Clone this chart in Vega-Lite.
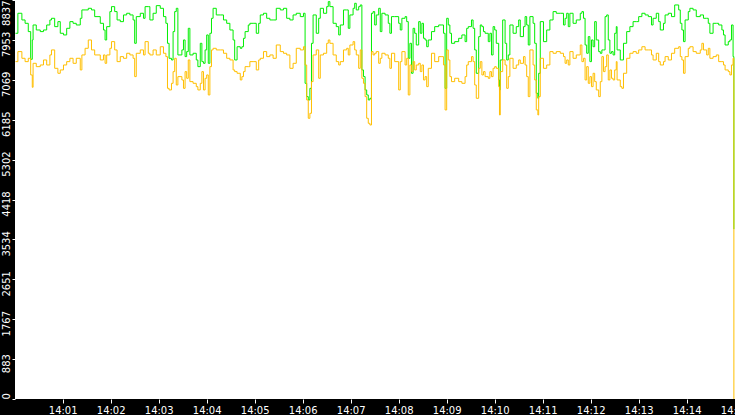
{
  "$schema": "https://vega.github.io/schema/vega-lite/v6.json",
  "width": 720,
  "height": 399,
  "autosize": {"type": "none"},
  "padding": {"left": 15, "top": 0, "right": 0, "bottom": 16},
  "background": "black",
  "data": {"values": [
    {"sec":1,"upper":8100,"lower":7472},{"sec":4,"upper":8543,"lower":7694},{"sec":9,"upper":8395,"lower":7546},{"sec":13,"upper":8321,"lower":7472},
    {"sec":17,"upper":8137,"lower":7546},{"sec":20,"upper":7524,"lower":7177},{"sec":22,"upper":7952,"lower":6904},{"sec":23,"upper":8284,"lower":7435},
    {"sec":27,"upper":8173,"lower":7361},{"sec":32,"upper":8137,"lower":7398},{"sec":36,"upper":8173,"lower":7509},{"sec":40,"upper":8284,"lower":7398},
    {"sec":44,"upper":8395,"lower":7620},{"sec":46,"upper":8432,"lower":7731},{"sec":50,"upper":8247,"lower":7324},{"sec":54,"upper":8358,"lower":7214},
    {"sec":57,"upper":8100,"lower":7288},{"sec":61,"upper":8063,"lower":7398},{"sec":65,"upper":8210,"lower":7472},{"sec":69,"upper":8358,"lower":7546},
    {"sec":73,"upper":8321,"lower":7435},{"sec":77,"upper":8284,"lower":7546},{"sec":82,"upper":8432,"lower":7288},{"sec":84,"upper":8617,"lower":7620},
    {"sec":88,"upper":8617,"lower":7767},{"sec":92,"upper":8653,"lower":7952},{"sec":96,"upper":8617,"lower":7731},{"sec":100,"upper":8469,"lower":7620},
    {"sec":107,"upper":8321,"lower":7509},{"sec":111,"upper":8173,"lower":7620},{"sec":113,"upper":7952,"lower":7435},{"sec":115,"upper":8247,"lower":7620},
    {"sec":119,"upper":8580,"lower":7767},{"sec":121,"upper":8690,"lower":7915},{"sec":125,"upper":8580,"lower":7731},{"sec":128,"upper":8395,"lower":7472},
    {"sec":132,"upper":8358,"lower":7583},{"sec":136,"upper":8506,"lower":7546},{"sec":140,"upper":8543,"lower":7657},{"sec":144,"upper":8506,"lower":7620},
    {"sec":148,"upper":8395,"lower":7546},{"sec":150,"upper":7878,"lower":7140},{"sec":152,"upper":8469,"lower":7657},{"sec":157,"upper":8543,"lower":7731},
    {"sec":161,"upper":8432,"lower":7620},{"sec":163,"upper":8690,"lower":7915},{"sec":167,"upper":8690,"lower":7657},{"sec":169,"upper":8395,"lower":7620},
    {"sec":173,"upper":8543,"lower":7731},{"sec":177,"upper":8712,"lower":7620},{"sec":182,"upper":8653,"lower":7802},{"sec":186,"upper":8469,"lower":7657},
    {"sec":189,"upper":8321,"lower":7583},{"sec":191,"upper":7878,"lower":6881},{"sec":193,"upper":7546,"lower":6845},{"sec":196,"upper":7509,"lower":6992},
    {"sec":198,"upper":8137,"lower":7251},{"sec":200,"upper":8580,"lower":7546},{"sec":202,"upper":8653,"lower":6955},{"sec":204,"upper":7620,"lower":7140},
    {"sec":209,"upper":7731,"lower":7066},{"sec":211,"upper":7952,"lower":6881},{"sec":213,"upper":7583,"lower":7251},{"sec":215,"upper":7694,"lower":7103},
    {"sec":217,"upper":8210,"lower":7509},{"sec":219,"upper":7620,"lower":7029},{"sec":223,"upper":7657,"lower":6992},{"sec":227,"upper":7509,"lower":6918},
    {"sec":229,"upper":7361,"lower":6845},{"sec":232,"upper":7878,"lower":6992},{"sec":234,"upper":7472,"lower":7251},{"sec":236,"upper":7435,"lower":6845},
    {"sec":238,"upper":7731,"lower":7103},{"sec":240,"upper":8063,"lower":7177},{"sec":242,"upper":7435,"lower":6734},{"sec":244,"upper":8100,"lower":7361},
    {"sec":246,"upper":8432,"lower":7731},{"sec":248,"upper":8653,"lower":7767},{"sec":252,"upper":8506,"lower":7731},{"sec":257,"upper":8506,"lower":7731},
    {"sec":261,"upper":8395,"lower":7657},{"sec":265,"upper":8321,"lower":7546},{"sec":269,"upper":8173,"lower":7509},{"sec":273,"upper":7952,"lower":7288},
    {"sec":275,"upper":7509,"lower":7251},{"sec":278,"upper":7802,"lower":7214},{"sec":282,"upper":7767,"lower":7066},{"sec":284,"upper":7802,"lower":7140},
    {"sec":286,"upper":7989,"lower":7251},{"sec":288,"upper":8137,"lower":7361},{"sec":292,"upper":8284,"lower":7361},
    {"sec":294,"upper":8321,"lower":7472},{"sec":298,"upper":8321,"lower":7472},{"sec":302,"upper":8100,"lower":7288},{"sec":305,"upper":8321,"lower":7509},
    {"sec":307,"upper":8506,"lower":7546},{"sec":311,"upper":8543,"lower":7694},{"sec":315,"upper":8432,"lower":7583},{"sec":319,"upper":8395,"lower":7620},
    {"sec":323,"upper":8395,"lower":7546},{"sec":327,"upper":8653,"lower":7841},{"sec":332,"upper":8617,"lower":7694},{"sec":336,"upper":8653,"lower":7657},
    {"sec":340,"upper":8432,"lower":7620},{"sec":344,"upper":8395,"lower":7324},{"sec":348,"upper":8506,"lower":7435},{"sec":352,"upper":8543,"lower":7767},
    {"sec":357,"upper":8469,"lower":7731},{"sec":361,"upper":8543,"lower":7802},{"sec":363,"upper":6992,"lower":7398},{"sec":365,"upper":6697,"lower":6623},
    {"sec":367,"upper":6623,"lower":6217},{"sec":369,"upper":6881,"lower":6328},{"sec":371,"upper":7878,"lower":7029},{"sec":373,"upper":8506,"lower":7620},
    {"sec":377,"upper":8100,"lower":7731},{"sec":380,"upper":8432,"lower":7103},{"sec":382,"upper":8653,"lower":7620},{"sec":386,"upper":8543,"lower":7657},
    {"sec":390,"upper":8690,"lower":7878},{"sec":392,"upper":8801,"lower":7952},{"sec":394,"upper":8690,"lower":7878},{"sec":398,"upper":8321,"lower":7620},
    {"sec":402,"upper":8247,"lower":7472},{"sec":405,"upper":8063,"lower":7398},{"sec":407,"upper":8284,"lower":7472},{"sec":411,"upper":8617,"lower":7731},
    {"sec":415,"upper":8617,"lower":7767},{"sec":417,"upper":8210,"lower":7620},{"sec":419,"upper":8506,"lower":7841},{"sec":423,"upper":8653,"lower":7915},
    {"sec":425,"upper":8764,"lower":7731},{"sec":427,"upper":8617,"lower":7620},{"sec":430,"upper":8690,"lower":7324},{"sec":432,"upper":8727,"lower":7731},
    {"sec":434,"upper":7288,"lower":7103},{"sec":436,"upper":7140,"lower":6992},{"sec":438,"upper":6845,"lower":6697},{"sec":440,"upper":6734,"lower":6217},
    {"sec":442,"upper":6623,"lower":6106},{"sec":444,"upper":6660,"lower":6069},
    {"sec":446,"upper":8543,"lower":7694},{"sec":448,"upper":8580,"lower":7620},{"sec":450,"upper":8284,"lower":7657},{"sec":452,"upper":8506,"lower":7694},
    {"sec":455,"upper":8653,"lower":7435},{"sec":457,"upper":8137,"lower":7546},{"sec":459,"upper":8543,"lower":7657},{"sec":463,"upper":8506,"lower":7620},
    {"sec":467,"upper":8321,"lower":7546},{"sec":469,"upper":8100,"lower":7324},{"sec":471,"upper":8469,"lower":7657},{"sec":475,"upper":8469,"lower":7472},
    {"sec":480,"upper":8321,"lower":6845},{"sec":482,"upper":8173,"lower":7472},{"sec":484,"upper":8432,"lower":7694},{"sec":488,"upper":8469,"lower":7398},
    {"sec":490,"upper":8358,"lower":7546},{"sec":492,"upper":7546,"lower":6734},{"sec":494,"upper":7878,"lower":7398},{"sec":496,"upper":7214,"lower":7251},
    {"sec":498,"upper":8210,"lower":7472},{"sec":500,"upper":8100,"lower":7288},{"sec":502,"upper":7841,"lower":7398},{"sec":505,"upper":8358,"lower":7435},
    {"sec":507,"upper":8100,"lower":7251},{"sec":509,"upper":8321,"lower":7398},{"sec":511,"upper":7989,"lower":7066},{"sec":513,"upper":7952,"lower":7140},
    {"sec":515,"upper":7802,"lower":6918},{"sec":517,"upper":7952,"lower":7324},{"sec":521,"upper":8137,"lower":7657},{"sec":525,"upper":8247,"lower":7472},
    {"sec":530,"upper":8284,"lower":7583},{"sec":534,"upper":8284,"lower":7583},{"sec":536,"upper":8100,"lower":7398},{"sec":538,"upper":6881,"lower":6402},
    {"sec":540,"upper":8432,"lower":7731},{"sec":542,"upper":8284,"lower":7509},{"sec":544,"upper":8100,"lower":7140},{"sec":546,"upper":7878,"lower":7029},
    {"sec":550,"upper":7915,"lower":7103},{"sec":555,"upper":7989,"lower":7029},{"sec":559,"upper":8063,"lower":6992},{"sec":563,"upper":7915,"lower":7140},
    {"sec":565,"upper":8210,"lower":7398},{"sec":567,"upper":8247,"lower":7472},{"sec":571,"upper":8395,"lower":7583},{"sec":573,"upper":8210,"lower":7472},
    {"sec":575,"upper":7731,"lower":6955},{"sec":577,"upper":7214,"lower":6660},{"sec":580,"upper":8026,"lower":7324},{"sec":582,"upper":8284,"lower":7472},
    {"sec":584,"upper":8247,"lower":7177},{"sec":586,"upper":8137,"lower":7251},{"sec":588,"upper":8100,"lower":7140},{"sec":592,"upper":7915,"lower":7103},
    {"sec":594,"upper":8100,"lower":7251},{"sec":596,"upper":7620,"lower":7140},{"sec":598,"upper":8247,"lower":7324},{"sec":600,"upper":8173,"lower":7361},
    {"sec":602,"upper":7878,"lower":7324},{"sec":605,"upper":7066,"lower":6918},{"sec":606,"upper":6845,"lower":6291},{"sec":607,"upper":7509,"lower":7251},
    {"sec":610,"upper":8395,"lower":7509},{"sec":613,"upper":7878,"lower":7398},{"sec":615,"upper":7509,"lower":6881},{"sec":617,"upper":7620,"lower":7140},
    {"sec":619,"upper":8284,"lower":7546},{"sec":623,"upper":8100,"lower":7324},{"sec":627,"upper":8247,"lower":7398},{"sec":630,"upper":8395,"lower":7509},
    {"sec":632,"upper":8026,"lower":7435},{"sec":636,"upper":8247,"lower":7583},{"sec":638,"upper":8469,"lower":7398},{"sec":640,"upper":8284,"lower":7140},
    {"sec":642,"upper":7841,"lower":6697},{"sec":644,"upper":8469,"lower":7731},{"sec":648,"upper":8321,"lower":7398},{"sec":650,"upper":7878,"lower":7066},
    {"sec":652,"upper":6771,"lower":6402},{"sec":654,"upper":6660,"lower":6291},{"sec":655,"upper":7214,"lower":6697},{"sec":657,"upper":8358,"lower":7546},
    {"sec":661,"upper":7915,"lower":7324},{"sec":665,"upper":8173,"lower":7398},{"sec":669,"upper":8395,"lower":7694},{"sec":673,"upper":8580,"lower":7657},
    {"sec":677,"upper":8543,"lower":7694},{"sec":682,"upper":8543,"lower":7657},{"sec":686,"upper":8284,"lower":7583},{"sec":688,"upper":8432,"lower":7435},
    {"sec":690,"upper":8543,"lower":7509},{"sec":692,"upper":8247,"lower":7398},{"sec":694,"upper":8543,"lower":7694},{"sec":698,"upper":8321,"lower":7546},
    {"sec":702,"upper":8395,"lower":7620},{"sec":707,"upper":8543,"lower":7841},{"sec":709,"upper":8580,"lower":7472},{"sec":711,"upper":8432,"lower":7546},
    {"sec":713,"upper":7841,"lower":7066},{"sec":715,"upper":7657,"lower":7361},{"sec":717,"upper":8026,"lower":6992},{"sec":719,"upper":7472,"lower":7140},
    {"sec":721,"upper":7952,"lower":6918},{"sec":723,"upper":7802,"lower":7214},{"sec":725,"upper":8358,"lower":7029},{"sec":727,"upper":7952,"lower":6845},
    {"sec":730,"upper":7694,"lower":6697},{"sec":732,"upper":7657,"lower":7029},{"sec":734,"upper":7731,"lower":7583},{"sec":736,"upper":7731,"lower":7251},
    {"sec":738,"upper":8469,"lower":7361},{"sec":740,"upper":8506,"lower":7620},{"sec":742,"upper":7952,"lower":7066},{"sec":744,"upper":7657,"lower":7288},
    {"sec":746,"upper":7694,"lower":7103},{"sec":748,"upper":7620,"lower":7066},{"sec":750,"upper":8100,"lower":7288},{"sec":752,"upper":8247,"lower":7472},
    {"sec":753,"upper":7731,"lower":7066},{"sec":757,"upper":7509,"lower":6918},{"sec":759,"upper":7509,"lower":6881},{"sec":761,"upper":7878,"lower":7214},
    {"sec":765,"upper":8137,"lower":7546},{"sec":769,"upper":8247,"lower":7657},{"sec":773,"upper":8358,"lower":7694},{"sec":777,"upper":8358,"lower":7657},
    {"sec":780,"upper":8469,"lower":7731},{"sec":784,"upper":8543,"lower":7802},{"sec":788,"upper":8506,"lower":7731},{"sec":792,"upper":8469,"lower":7731},
    {"sec":796,"upper":8284,"lower":7620},{"sec":798,"upper":8432,"lower":7509},{"sec":802,"upper":8543,"lower":7657},{"sec":805,"upper":8358,"lower":7472},
    {"sec":807,"upper":8173,"lower":7398},{"sec":811,"upper":8321,"lower":7472},{"sec":813,"upper":8506,"lower":7583},{"sec":817,"upper":8543,"lower":7509},
    {"sec":821,"upper":8469,"lower":7657},{"sec":825,"upper":8727,"lower":7767},{"sec":830,"upper":8617,"lower":7802},{"sec":832,"upper":8321,"lower":7583},
    {"sec":834,"upper":8173,"lower":7509},{"sec":836,"upper":7915,"lower":7214},{"sec":838,"upper":8395,"lower":7583},{"sec":842,"upper":8580,"lower":7767},
    {"sec":844,"upper":8653,"lower":7802},{"sec":848,"upper":8617,"lower":7694},{"sec":852,"upper":8469,"lower":7657},{"sec":857,"upper":8506,"lower":7731},
    {"sec":859,"upper":8506,"lower":7878},{"sec":861,"upper":8432,"lower":7731},{"sec":865,"upper":8432,"lower":7620},{"sec":867,"upper":8321,"lower":7767},
    {"sec":869,"upper":8100,"lower":7546},{"sec":873,"upper":8321,"lower":7583},{"sec":877,"upper":8321,"lower":7620},{"sec":880,"upper":8284,"lower":7472},
    {"sec":884,"upper":8173,"lower":7472},{"sec":886,"upper":8063,"lower":7398},{"sec":888,"upper":7841,"lower":7288},{"sec":892,"upper":7915,"lower":7251},
    {"sec":894,"upper":7952,"lower":7177},{"sec":896,"upper":8284,"lower":7398},{"sec":898,"upper":7583,"lower":7546},{"sec":899,"upper":3762,"lower":0}
  ]},
  "encoding": {
    "x": {
      "field": "sec",
      "type": "quantitative",
      "scale": {"domain": [0.4, 900.4], "nice": false, "zero": false},
      "axis": {
        "values": [60, 120, 180, 240, 300, 360, 420, 480, 540, 600, 660, 720, 780, 840, 900],
        "labelExpr": "'14:' + (datum.value < 600 ? '0' : '') + datum.value / 60",
        "title": null, "grid": false, "domain": false,
        "tickColor": "white", "tickSize": 4,
        "labelColor": "white", "labelFont": "DejaVu Sans", "labelFontSize": 10,
        "labelPadding": 2, "labelFlush": false, "labelOverlap": false
      }
    }
  },
  "layer": [
    {
      "mark": {"type": "line", "color": "#00ee00", "strokeWidth": 1, "interpolate": "step-after", "clip": true},
      "encoding": {
        "y": {
          "field": "upper", "type": "quantitative",
          "scale": {"domain": [0, 8837], "nice": false},
          "axis": {
            "values": [0, 883.7, 1767.4, 2651.1, 3534.8, 4418.5, 5302.2, 6185.9, 7069.6, 7953.3, 8837],
            "labelExpr": "floor(datum.value)",
            "labelAngle": 270, "title": null, "grid": false, "domain": false,
            "labelAlign": {"expr": "datum.value > 8800 ? 'right' : datum.value < 1 ? 'left' : 'center'"},
            "labelOffset": {"expr": "datum.value > 8800 || datum.value < 1 ? 0 : 4"},
            "tickColor": "white", "tickSize": 3,
            "labelColor": "white", "labelFont": "DejaVu Sans", "labelFontSize": 10,
            "labelPadding": 1, "labelFlush": false, "labelOverlap": false
          }
        }
      }
    },
    {
      "mark": {"type": "line", "color": "#ffbf00", "strokeWidth": 1, "interpolate": "step-after", "clip": true},
      "encoding": {
        "y": {
          "field": "lower", "type": "quantitative",
          "scale": {"domain": [0, 8837], "nice": false},
          "axis": {
            "values": [0, 883.7, 1767.4, 2651.1, 3534.8, 4418.5, 5302.2, 6185.9, 7069.6, 7953.3, 8837],
            "labelExpr": "floor(datum.value)",
            "labelAngle": 270, "title": null, "grid": false, "domain": false,
            "labelAlign": {"expr": "datum.value > 8800 ? 'right' : datum.value < 1 ? 'left' : 'center'"},
            "labelOffset": {"expr": "datum.value > 8800 || datum.value < 1 ? 0 : 4"},
            "tickColor": "white", "tickSize": 3,
            "labelColor": "white", "labelFont": "DejaVu Sans", "labelFontSize": 10,
            "labelPadding": 1, "labelFlush": false, "labelOverlap": false
          }
        }
      }
    }
  ],
  "config": {"view": {"fill": "white", "stroke": null}}
}
